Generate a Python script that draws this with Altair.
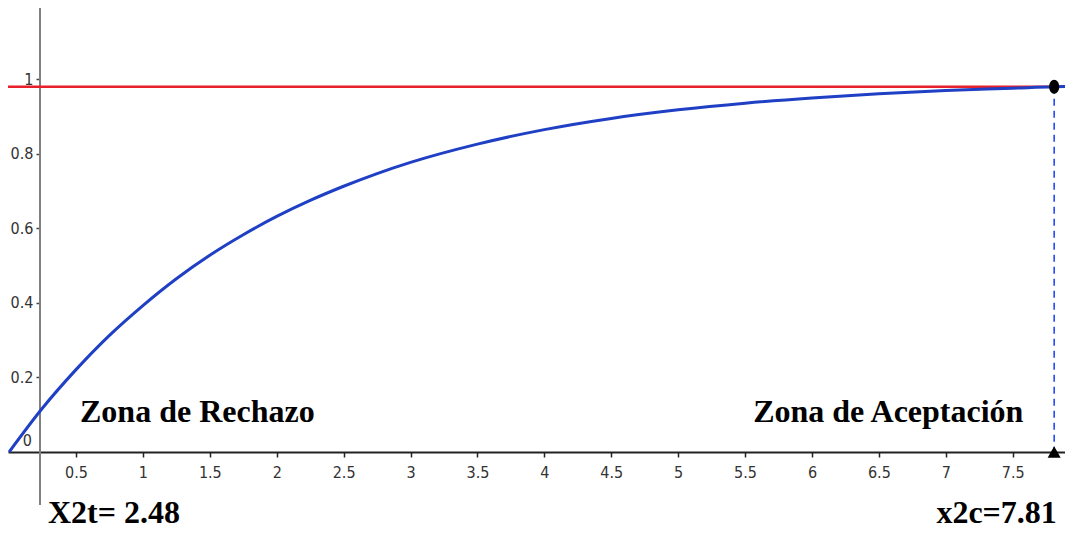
import altair as alt
import pandas as pd

# curve values
curve_x = [0, 0.25, 0.5, 0.75, 1, 1.25, 1.5, 1.75, 2, 2.25, 2.5, 2.75, 3, 3.5, 4, 4.5,
           5, 5.5, 6, 6.5, 7, 7.5, 7.81, 7.95]
curve_y = [0, 0.118, 0.221, 0.313, 0.393, 0.465, 0.528, 0.583, 0.632, 0.675, 0.713, 0.747,
           0.777, 0.826, 0.865, 0.895, 0.918, 0.936, 0.950, 0.961, 0.970, 0.976, 0.980, 0.981]

critical_x = 7.81
critical_p = 0.98

x_ticks = [0.5, 1, 1.5, 2, 2.5, 3, 3.5, 4, 4.5, 5, 5.5, 6, 6.5, 7, 7.5]
y_ticks = [0.2, 0.4, 0.6, 0.8, 1]

yaxis_x = 0.231
yaxis_top = 1.2
yaxis_bottom = -0.142

zone_labels = ["Zona de Rechazo", "Zona de Aceptación"]
zone_x = [0.53, 7.58]
zone_y = [0.08, 0.08]
zone_align = ["left", "right"]

bottom_labels = ["X2t= 2.48", "x2c=7.81"]
bottom_x = [0.29, 7.83]
bottom_y = [-0.19, -0.19]

XMIN, XMAX = -0.0082, 7.891
YMIN, YMAX = -0.2066, 1.1913

xs = alt.Scale(domain=[XMIN, XMAX], zero=False, nice=False)
ys = alt.Scale(domain=[YMIN, YMAX], zero=False, nice=False)

LABEL_FONT = "Liberation Sans Narrow, DejaVu Sans Condensed, sans-serif"

curve_df = pd.DataFrame({"x": curve_x, "y": curve_y})

base_axes = alt.Chart(pd.DataFrame({"x": [0.0], "y": [0.0]})).mark_point(opacity=0).encode(
    x=alt.X("x:Q", scale=xs, axis=alt.Axis(
        values=x_ticks, offset=-77, grid=False, domain=True, domainColor="#222222",
        domainWidth=2, tickColor="#222222", tickSize=5, tickWidth=1.5, labelPadding=7,
        labelFont=LABEL_FONT, labelFontSize=16, labelColor="#333333", title=None,
        labelFlush=False, labelOverlap=False, format="~g")),
    y=alt.Y("y:Q", scale=ys, axis=alt.Axis(
        values=y_ticks, offset=-32, grid=False, domain=False, tickColor="#444444",
        tickSize=4, tickWidth=1.5, labelPadding=3, labelFont=LABEL_FONT, labelFontSize=16,
        labelColor="#333333", title=None, labelFlush=False, labelOverlap=False,
        format="~g")),
)

yaxis_line = alt.Chart(pd.DataFrame({"x": [yaxis_x], "y": [yaxis_top], "y2": [yaxis_bottom]})).mark_rule(
    color="#808080", strokeWidth=2).encode(
    x=alt.X("x:Q", scale=xs), y=alt.Y("y:Q", scale=ys), y2="y2:Q")

zero_label = alt.Chart(pd.DataFrame({"x": [yaxis_x], "y": [0.0], "t": ["0"]})).mark_text(
    font=LABEL_FONT, fontSize=16, color="#333333", align="right", baseline="bottom",
    dx=-8, dy=-3).encode(x=alt.X("x:Q", scale=xs), y=alt.Y("y:Q", scale=ys), text="t:N")

red = alt.Chart(pd.DataFrame({"y": [critical_p]})).mark_rule(
    color="#e8202a", strokeWidth=2.5).encode(y=alt.Y("y:Q", scale=ys))

curve = alt.Chart(curve_df).mark_line(color="#1f3fc4", strokeWidth=3, interpolate="monotone").encode(
    x=alt.X("x:Q", scale=xs), y=alt.Y("y:Q", scale=ys))

dashed = alt.Chart(pd.DataFrame({"x": [critical_x], "y": [critical_p], "y2": [0.0]})).mark_rule(
    color="#1a3cff", strokeWidth=1.5, strokeDash=[7, 5]).encode(
    x=alt.X("x:Q", scale=xs), y=alt.Y("y:Q", scale=ys), y2="y2:Q")

ellipse = "M -0.72 0 A 0.72 1 0 1 1 0.72 0 A 0.72 1 0 1 1 -0.72 0 Z"
point = alt.Chart(pd.DataFrame({"x": [critical_x], "y": [critical_p]})).mark_point(
    shape=ellipse, filled=True, color="black", size=196, opacity=1).encode(
    x=alt.X("x:Q", scale=xs), y=alt.Y("y:Q", scale=ys))

tri = alt.Chart(pd.DataFrame({"x": [critical_x], "y": [0.0]})).mark_point(
    shape="triangle-up", filled=True, color="black", size=170, opacity=1).encode(
    x=alt.X("x:Q", scale=xs), y=alt.Y("y:Q", scale=ys))

TEXT_FONT = "Liberation Serif, Times New Roman, serif"

zones = alt.Chart(pd.DataFrame({"x": zone_x, "y": zone_y, "t": zone_labels, "a": zone_align}))
zone_left = zones.transform_filter("datum.a == 'left'").mark_text(
    font=TEXT_FONT, fontWeight="bold", fontSize=32, color="black",
    align="left", baseline="alphabetic").encode(
    x=alt.X("x:Q", scale=xs), y=alt.Y("y:Q", scale=ys), text="t:N")
zone_right = zones.transform_filter("datum.a == 'right'").mark_text(
    font=TEXT_FONT, fontWeight="bold", fontSize=32, color="black",
    align="right", baseline="alphabetic").encode(
    x=alt.X("x:Q", scale=xs), y=alt.Y("y:Q", scale=ys), text="t:N")

bottoms = alt.Chart(pd.DataFrame({"x": bottom_x, "y": bottom_y, "t": bottom_labels}))
bottom_left = bottoms.transform_filter("datum.x < 4").mark_text(
    font=TEXT_FONT, fontWeight="bold", fontSize=32, color="black",
    align="left", baseline="alphabetic").encode(
    x=alt.X("x:Q", scale=xs), y=alt.Y("y:Q", scale=ys), text="t:N")
bottom_right = bottoms.transform_filter("datum.x > 4").mark_text(
    font=TEXT_FONT, fontWeight="bold", fontSize=32, color="black",
    align="right", baseline="alphabetic").encode(
    x=alt.X("x:Q", scale=xs), y=alt.Y("y:Q", scale=ys), text="t:N")

chart = alt.layer(
    base_axes, yaxis_line, zero_label, red, curve, dashed, point, tri,
    zone_left, zone_right, bottom_left, bottom_right
).properties(
    width=1057, height=521, padding=0, background="white",
    autosize=alt.AutoSizeParams(type="none")
).configure_view(stroke=None)

chart.save("out.html", embed_options={"renderer": "svg", "actions": False})
